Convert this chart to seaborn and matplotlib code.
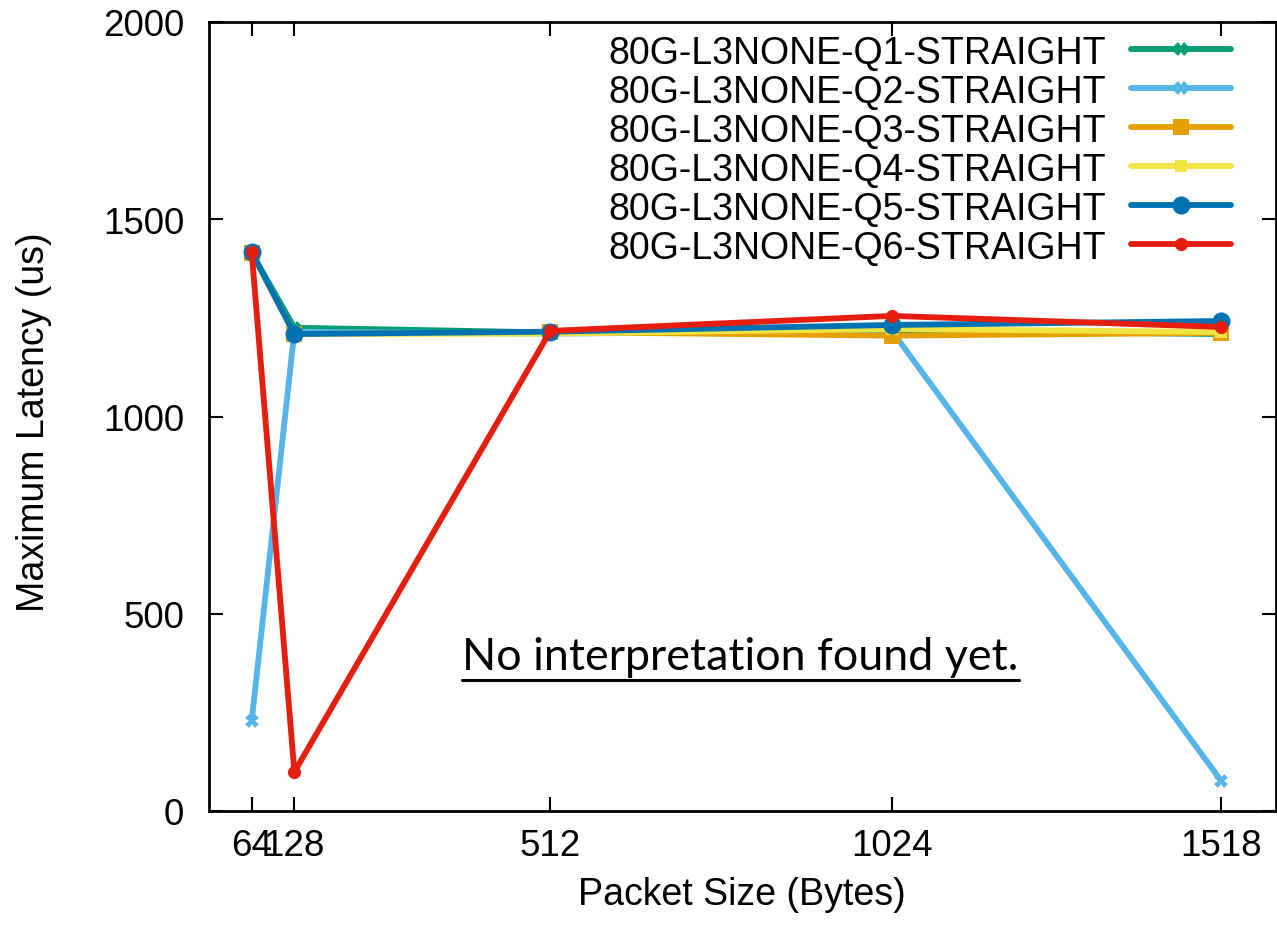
import matplotlib
matplotlib.use("Agg")
import matplotlib.pyplot as plt
import seaborn as sns
import pandas as pd
from matplotlib.lines import Line2D

packet_sizes = [64, 128, 512, 1024, 1518]
series_names = [
    "80G-L3NONE-Q1-STRAIGHT",
    "80G-L3NONE-Q2-STRAIGHT",
    "80G-L3NONE-Q3-STRAIGHT",
    "80G-L3NONE-Q4-STRAIGHT",
    "80G-L3NONE-Q5-STRAIGHT",
    "80G-L3NONE-Q6-STRAIGHT",
]
q1 = [1415, 1225, 1213, 1218, 1209]
q2 = [228, 1215, 1210, 1217, 76]
q3 = [1415, 1209, 1214, 1205, 1212]
q4 = [1415, 1209, 1210, 1222, 1214]
q5 = [1417, 1209, 1215, 1232, 1242]
q6 = [1417, 99, 1217, 1255, 1227]
values = [q1, q2, q3, q4, q5, q6]
x_ticks = [64, 128, 512, 1024, 1518]
y_ticks = [0, 500, 1000, 1500, 2000]

colors = ["#009e73", "#56b4e9", "#e69f00", "#f0e442", "#0072b2", "#e51e10"]
markers = ["X", "X", "s", "s", "o", "o"]
msizes = [10, 10, 11.5, 8, 13, 9.5]

sns.set_theme(style="ticks")
plt.rcParams["font.family"] = ["Liberation Sans", "DejaVu Sans"]
plt.rcParams["text.color"] = "black"
plt.rcParams["axes.labelcolor"] = "black"

fig = plt.figure(figsize=(12.77, 9.29), dpi=100)
ax = fig.add_axes([209 / 1277, 117 / 929, 1067 / 1277, 789 / 929])

rows = []
for name, vals in zip(series_names, values):
    for x, y in zip(packet_sizes, vals):
        rows.append({"size": x, "latency": y, "series": name})
df = pd.DataFrame(rows)

lw = 4.2
handles = []
for name, c, m, ms in zip(series_names, colors, markers, msizes):
    sub = df[df["series"] == name]
    sns.lineplot(data=sub, x="size", y="latency", ax=ax, color=c, lw=lw,
                 marker=m, markersize=ms, markeredgewidth=0, legend=False)
    handles.append(Line2D([], [], color=c, lw=lw, marker=m, markersize=ms,
                          markeredgewidth=0, label=name))

ax.set_xlim(0, 1600)
ax.set_ylim(0, 2000)
ax.set_xticks(x_ticks)
ax.set_xticklabels([str(t) for t in x_ticks])
ax.set_yticks(y_ticks)
ax.tick_params(direction="in", length=10, width=1.5, labelsize=26.5, top=True,
               right=True, colors="black")
ax.tick_params(axis="x", pad=12)
ax.tick_params(axis="y", pad=18)
for s in ax.spines.values():
    s.set_linewidth(2)
    s.set_color("black")
ax.set_xlabel("Packet Size (Bytes)", fontsize=27)
ax.set_ylabel("Maximum Latency (us)", fontsize=27)
ax.xaxis.set_label_coords(0.4995, -0.083)
ax.yaxis.set_label_coords(-0.147, 0.494)

leg = ax.legend(handles=handles, loc="upper right", markerfirst=False,
                frameon=False, fontsize=27, handlelength=2.67,
                labelspacing=0.08, borderaxespad=0, borderpad=0,
                handletextpad=0.67, bbox_to_anchor=(0.958, 0.984))

txt = ax.text(0.498, 0.18, "No interpretation found yet.", transform=ax.transAxes,
              ha="center", va="baseline", fontsize=32.3, color="black",
              family=["Lato", "DejaVu Sans"])
fig.canvas.draw()
bb = txt.get_window_extent().transformed(ax.transAxes.inverted())
ax.plot([bb.x0, bb.x1], [0.166, 0.166], transform=ax.transAxes,
        color="black", lw=2.2)

fig.savefig("out.png", dpi=100)
